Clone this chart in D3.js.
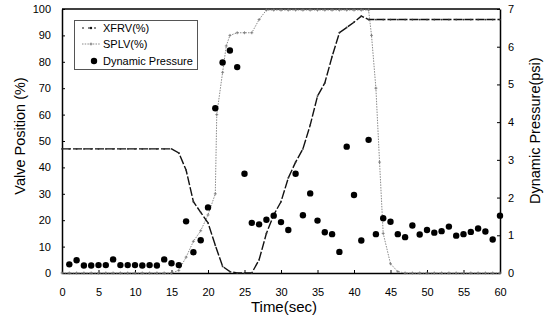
<!DOCTYPE html>
<meta charset="utf-8">
<script src="https://d3js.org/d3.v7.min.js"></script>
<style>
  body { margin: 0; background: #fff; }
  text { font-family: "Liberation Sans", Arial, sans-serif; fill: #000; }
</style>
<div id="viz"></div>
<script>

// XFRV valve position (%), one sample per second
var xfrvTime = [0,1,2,3,4,5,6,7,8,9,10,11,12,13,14,15,16,17,18,19,20,21,22,23,24,25,26,27,28,29,30,
                31,32,33,34,35,36,37,38,39,40,41,42,43,44,45,46,47,48,49,50,51,52,53,54,55,56,57,58,59,60];
var xfrvValue = [47,47,47,47,47,47,47,47,47,47,47,47,47,47,47,47,45.5,39,27,23,19,10.5,2.5,0.5,0,0,0,
                 5,15,22,27,36,42,47,56,67,72,82,91,93,95,97.3,96,
                 96,96,96,96,96,96,96,96,96,96,96,96,96,96,96,96,96,96];

// SPLV valve position (%)
var splvTime = [0,1,2,3,4,5,6,7,8,9,10,11,12,13,14,15,16,17,18,19,20,21,21.2,22,22.5,23,24,25,26,27,28,
                29,30,31,32,33,34,35,36,37,38,39,40,41,42,42.4,43,43.5,44,45,46,
                47,48,49,50,51,52,53,54,55,56,57,58,59,60];
var splvValue = [0,0,0,0,0,0,0,0,0,0,0,0,0,0,0,0,1,6,12,16,22,30,60,76,86,90,91,91,91,96,99.6,
                 99.6,99.6,99.6,99.6,99.6,99.6,99.6,99.6,99.6,99.6,99.6,99.6,99.6,99.6,90,70,42,15,3.5,0.5,
                 0,0,0,0,0,0,0,0,0,0,0,0,0,0];

// dynamic pressure (psi)
var pressTime = [1,2,3,4,5,6,7,8,9,10,11,12,13,14,15,16,17,18,19,20,21,22,23,24,25,26,27,28,29,30,
                 31,32,33,34,35,36,37,38,39,40,41,42,43,44,45,46,47,48,49,50,51,52,53,54,55,56,57,58,59,60];
var pressValue = [0.23,0.34,0.2,0.2,0.21,0.21,0.36,0.21,0.21,0.21,0.2,0.21,0.2,0.36,0.26,0.21,1.37,0.55,0.87,1.74,
                  4.37,5.58,5.9,5.46,2.63,1.33,1.29,1.41,1.52,1.35,1.14,2.63,1.53,2.11,1.39,1.08,1.03,0.56,3.35,2.07,
                  0.86,3.53,1.03,1.45,1.36,1.03,0.95,1.26,1.02,1.14,1.07,1.11,1.23,0.99,1.03,1.09,1.18,1.1,0.89,1.52];

var xTicks = [0,5,10,15,20,25,30,35,40,45,50,55,60];
var leftTicks = [0,10,20,30,40,50,60,70,80,90,100];
var rightTicks = [0,1,2,3,4,5,6,7];

var width = 545, height = 320;
var margin = {top: 9, right: 45, bottom: 47, left: 62};

var svg = d3.select("#viz")
  .append("svg")
    .attr("width", width)
    .attr("height", height);

var x = d3.scaleLinear()
  .domain([0, 60])
  .range([margin.left, width - margin.right]);

var yL = d3.scaleLinear()
  .domain([0, 100])
  .range([height - margin.bottom, margin.top]);

var yR = d3.scaleLinear()
  .domain([0, 7])
  .range([height - margin.bottom, margin.top]);

// axes
var gx = svg.append("g")
  .attr("transform", "translate(0," + (height - margin.bottom) + ")")
  .call(d3.axisBottom(x).tickValues(xTicks).tickSize(-3).tickSizeOuter(0).tickPadding(15));

var gl = svg.append("g")
  .attr("transform", "translate(" + margin.left + ",0)")
  .call(d3.axisLeft(yL).tickValues(leftTicks).tickSize(-3).tickSizeOuter(0).tickPadding(11));

var gr = svg.append("g")
  .attr("transform", "translate(" + (width - margin.right) + ",0)")
  .call(d3.axisRight(yR).tickValues(rightTicks).tickFormat(d3.format("d"))
    .tickSize(-3).tickSizeOuter(0).tickPadding(8));

[gx, gl, gr].forEach(function(g) {
  g.select(".domain").attr("stroke", "#000").attr("stroke-width", 1.5);
  g.selectAll(".tick line").attr("stroke", "#000");
  g.selectAll(".tick text")
    .style("font-family", '"Liberation Sans", Arial, sans-serif')
    .style("font-size", "11px")
    .attr("fill", "#000");
});

// top frame
svg.append("line")
  .attr("x1", x(0)).attr("x2", x(60))
  .attr("y1", yL(100)).attr("y2", yL(100))
  .attr("stroke", "#000")
  .attr("stroke-width", 1.5);

// SPLV line
var splv = splvTime.map(function(t, i) { return [t, splvValue[i]]; });
var line = d3.line()
  .x(function(d) { return x(d[0]); })
  .y(function(d) { return yL(d[1]); });

svg.append("path")
  .datum(splv)
  .attr("d", line)
  .attr("fill", "none")
  .attr("stroke", "#8a8a8a")
  .attr("stroke-width", 1)
  .attr("stroke-dasharray", "1.5,1.2");

svg.append("g")
  .selectAll("path")
  .data(splv)
  .enter()
  .append("path")
    .attr("d", function(d) {
      var cx = x(d[0]), cy = yL(d[1]);
      return "M" + (cx - 1.5) + "," + cy + "h3M" + cx + "," + (cy - 1.5) + "v3";
    })
    .attr("stroke", "#777")
    .attr("stroke-width", 0.8);

// XFRV line
var xfrv = xfrvTime.map(function(t, i) { return [t, xfrvValue[i]]; });

svg.append("path")
  .datum(xfrv)
  .attr("d", line)
  .attr("fill", "none")
  .attr("stroke", "#111")
  .attr("stroke-width", 1.4)
  .attr("stroke-dasharray", "9,2");

svg.append("g")
  .selectAll("circle")
  .data(xfrv)
  .enter()
  .append("circle")
    .attr("cx", function(d) { return x(d[0]); })
    .attr("cy", function(d) { return yL(d[1]); })
    .attr("r", 0.9)
    .attr("fill", "#333");

// dynamic pressure dots
svg.append("g")
  .selectAll("circle")
  .data(pressTime)
  .enter()
  .append("circle")
    .attr("cx", function(d) { return x(d); })
    .attr("cy", function(d, i) { return yR(pressValue[i]); })
    .attr("r", 3.2)
    .attr("fill", "#000");

// axis titles
svg.append("text")
  .attr("x", x(30) + 3)
  .attr("y", 312)
  .attr("text-anchor", "middle")
  .style("font-size", "15px")
  .text("Time(sec)");

svg.append("text")
  .attr("transform", "translate(25,136) rotate(-90)")
  .attr("text-anchor", "middle")
  .style("font-size", "14.5px")
  .text("Valve Position (%)");

svg.append("text")
  .attr("transform", "translate(540,204) rotate(-90)")
  .attr("text-anchor", "start")
  .style("font-size", "14.5px")
  .text("Dynamic Pressure(psi)");

// legend
var lg = svg.append("g");
lg.append("rect")
  .attr("x", 74.5).attr("y", 20.5)
  .attr("width", 123).attr("height", 49)
  .attr("fill", "#fff")
  .attr("stroke", "#555")
  .attr("stroke-width", 1);

lg.append("line")
  .attr("x1", 82).attr("x2", 100).attr("y1", 28).attr("y2", 28)
  .attr("stroke", "#111").attr("stroke-width", 1.2).attr("stroke-dasharray", "2,4");
lg.append("circle").attr("cx", 91).attr("cy", 28).attr("r", 1.2).attr("fill", "#111");

lg.append("line")
  .attr("x1", 82).attr("x2", 100).attr("y1", 44).attr("y2", 44)
  .attr("stroke", "#8a8a8a").attr("stroke-width", 1).attr("stroke-dasharray", "1.5,1.2");
lg.append("path")
  .attr("d", "M89.5,44h3M91,42.5v3")
  .attr("stroke", "#777").attr("stroke-width", 0.8);

lg.append("circle").attr("cx", 94).attr("cy", 61).attr("r", 3.2).attr("fill", "#000");

lg.selectAll("text.lab")
  .data(["XFRV(%)", "SPLV(%)", "Dynamic Pressure"])
  .enter()
  .append("text")
    .attr("class", "lab")
    .attr("x", 103)
    .attr("y", function(d, i) { return [32, 48, 65][i]; })
    .style("font-size", "11px")
    .text(function(d) { return d; });

</script>
